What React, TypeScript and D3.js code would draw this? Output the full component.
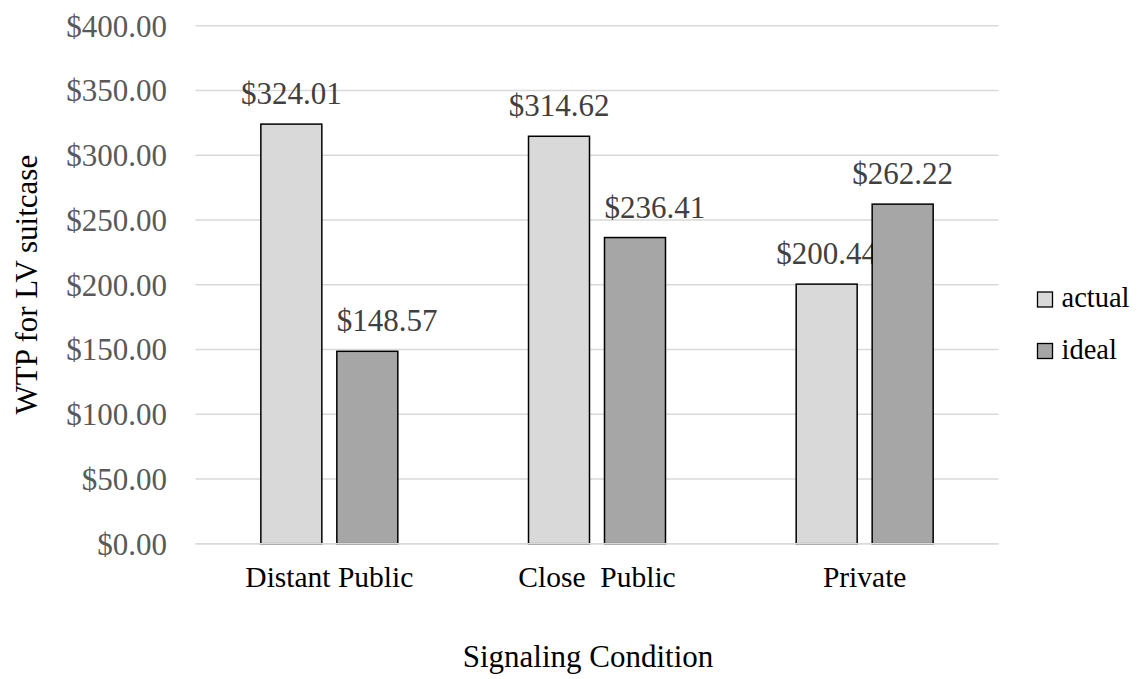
import React from "react";
import * as d3 from "d3";

const categories = ["Distant Public", "Close  Public", "Private"];
const seriesNames = ["actual", "ideal"];
const actualValues = [324.01, 314.62, 200.44];
const idealValues = [148.57, 236.41, 262.22];
const yTicks = [0, 50, 100, 150, 200, 250, 300, 350, 400];
const seriesColors = ["#d9d9d9", "#a6a6a6"];

const W = 1141;
const H = 679;
const FONT = "Liberation Serif, Times New Roman, Times, serif";

export default function App() {
  const x = d3.scaleBand<string>().domain(categories).range([195.5, 998.5]).paddingInner(0).paddingOuter(0);
  const xs = d3
    .scaleBand<string>()
    .domain(seriesNames)
    .range([0, x.bandwidth()])
    .paddingInner(15 / 76)
    .paddingOuter(0.86);
  const y = d3.scaleLinear().domain([0, 400]).range([543.7, 25.7]);
  const fmt = (v: number) => "$" + d3.format(",.2f")(v);
  const values = [actualValues, idealValues];

  return (
    <svg
      width={W}
      height={H}
      style={{ position: "absolute", left: 0, top: 0, background: "#fff", fontFamily: FONT }}
    >
      <rect width={W} height={H} fill="#fff" />
      {yTicks.map((t) => (
        <g key={t}>
          <line x1={195.5} x2={998.5} y1={y(t)} y2={y(t)} stroke="#d9d9d9" strokeWidth={1.5} />
          <text x={167} y={y(t)} dy="0.35em" textAnchor="end" fontSize={31} fill="#595959" fontFamily={FONT}>
            {fmt(t)}
          </text>
        </g>
      ))}
      {categories.map((c, ci) => (
        <g key={c}>
          {seriesNames.map((s, si) => {
            const v = values[si][ci];
            const bx = (x(c) ?? 0) + (xs(s) ?? 0);
            const shifted = si === 1 && values[0][ci] > v;
            return (
              <g key={s}>
                <rect
                  x={bx}
                  y={y(v)}
                  width={xs.bandwidth()}
                  height={y(0) - y(v)}
                  fill={seriesColors[si]}
                  stroke="#000"
                  strokeWidth={1.5}
                />
                <text
                  x={shifted ? bx : bx + xs.bandwidth() / 2}
                  y={y(v) - 20}
                  textAnchor={shifted ? "start" : "middle"}
                  fontSize={31}
                  fill="#404040"
                  fontFamily={FONT}
                >
                  {fmt(v)}
                </text>
              </g>
            );
          })}
          <text
            x={(x(c) ?? 0) + x.bandwidth() / 2}
            y={587}
            textAnchor="middle"
            fontSize={29.5}
            fill="#000"
            fontFamily={FONT}
            style={{ whiteSpace: "pre" }}
            xmlSpace="preserve"
          >
            {c}
          </text>
        </g>
      ))}
      <line x1={195.5} x2={998.5} y1={y(0)} y2={y(0)} stroke="#d9d9d9" strokeWidth={1.5} />
      <text
        transform={`translate(37, ${(y(0) + y(400)) / 2}) rotate(-90)`}
        textAnchor="middle"
        fontSize={31}
        fill="#000"
        fontFamily={FONT}
      >
        WTP for LV suitcase
      </text>
      <text x={588} y={667} textAnchor="middle" fontSize={31} fill="#000" fontFamily={FONT}>
        Signaling Condition
      </text>
      {seriesNames.map((s, si) => (
        <g key={s}>
          <rect
            x={1037.5}
            y={292 + si * 51.5}
            width={15}
            height={15}
            fill={seriesColors[si]}
            stroke="#000"
            strokeWidth={1.3}
          />
          <text x={1061.5} y={307.3 + si * 51.7} fontSize={28.5} fill="#000" fontFamily={FONT}>
            {s}
          </text>
        </g>
      ))}
    </svg>
  );
}
